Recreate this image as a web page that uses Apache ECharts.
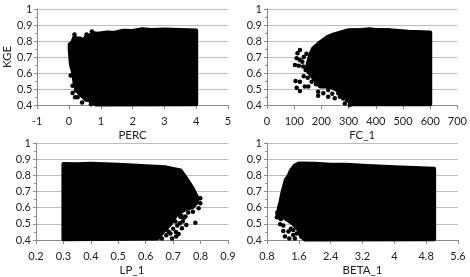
<!DOCTYPE html>
<html><head><meta charset="utf-8">
<style>html,body{margin:0;padding:0;background:#fff}#c{width:470px;height:277px;filter:blur(0.35px)}</style>
<script src="https://cdn.jsdelivr.net/npm/echarts@6/dist/echarts.min.js"></script>
</head><body><div id="c"></div>
<script>
const yMin = 0.4, yMax = 1, yStep = 0.1;
const percName = 'PERC', fcName = 'FC_1', lpName = 'LP_1', betaName = 'BETA_1', yName = 'KGE';

const percOutline = [[0.02,0.78],[0.1,0.79],[0.17,0.825],[0.25,0.815],[0.35,0.815],[0.45,0.805],[0.58,0.835],[0.66,0.835],[0.74,0.85],[0.9,0.846],[1.2,0.853],[1.4,0.851],[1.7,0.864],[2.0,0.862],[2.3,0.873],[2.6,0.869],[3,0.872],[3.5,0.868],[4,0.866],[4,0.405],[0.85,0.403],[0.72,0.42],[0.5,0.44],[0.33,0.47],[0.23,0.5],[0.18,0.53],[0.12,0.61],[0.06,0.65],[0.02,0.75]];
const percOutliers = [[0.05,0.585],[0.11,0.52],[0.11,0.475],[0.19,0.448],[0.27,0.448],[0.41,0.415],[0.53,0.435],[0.69,0.405],[0.22,0.49],[0.17,0.84],[0.55,0.84],[0.72,0.86]];

const fcOutline = [[158,0.71],[170,0.755],[190,0.785],[222,0.825],[243,0.84],[265,0.85],[300,0.867],[340,0.868],[375,0.874],[410,0.868],[450,0.868],[520,0.858],[600,0.853],[600,0.405],[312,0.405],[304,0.42],[268,0.485],[232,0.516],[195,0.516],[171,0.568],[146,0.62],[150,0.66]];
const fcOutliers = [[121,0.744],[112,0.723],[109,0.692],[121,0.681],[103,0.65],[117,0.646],[133,0.64],[142,0.619],[105,0.55],[121,0.546],[109,0.508],[121,0.488],[139,0.515],[152,0.515],[164,0.546],[188,0.483],[188,0.458],[207,0.473],[225,0.494],[225,0.452],[249,0.442],[268,0.452],[286,0.41],[304,0.4],[262,0.473],[135,0.7],[145,0.72],[130,0.67],[135,0.58],[150,0.57],[180,0.53],[240,0.47],[280,0.44],[295,0.43]];

const lpOutline = [[0.3,0.87],[0.35,0.868],[0.4,0.872],[0.5,0.866],[0.6,0.856],[0.67,0.85],[0.7,0.84],[0.727,0.83],[0.75,0.775],[0.77,0.722],[0.79,0.655],[0.785,0.63],[0.773,0.605],[0.745,0.59],[0.713,0.56],[0.693,0.505],[0.665,0.455],[0.645,0.41],[0.3,0.405]];
const lpOutliers = [[0.781,0.507],[0.799,0.658],[0.799,0.627],[0.793,0.596],[0.772,0.575],[0.748,0.493],[0.732,0.472],[0.726,0.544],[0.738,0.534],[0.724,0.503],[0.708,0.514],[0.72,0.437],[0.711,0.421],[0.696,0.41],[0.683,0.452],[0.665,0.462],[0.659,0.41],[0.72,0.56],[0.73,0.55],[0.745,0.545],[0.735,0.515],[0.715,0.49],[0.7,0.47],[0.69,0.44],[0.675,0.43],[0.71,0.45],[0.755,0.57]];

const betaOutline = [[1.6,0.873],[2,0.872],[2.4,0.866],[2.8,0.866],[3.2,0.86],[4,0.85],[5,0.84],[5,0.405],[1.75,0.403],[1.66,0.42],[1.6,0.46],[1.46,0.5],[1.22,0.54],[1.08,0.56],[1.1,0.6],[1.14,0.634],[1.18,0.686],[1.27,0.77],[1.35,0.8],[1.4,0.83],[1.5,0.86]];
const betaOutliers = [[1.07,0.559],[1.13,0.534],[1.13,0.497],[1.21,0.489],[1.21,0.456],[1.34,0.452],[1.46,0.462],[1.51,0.493],[1.25,0.421],[1.36,0.41],[1.46,0.431],[1.05,0.54],[1.06,0.57],[1.15,0.53],[1.4,0.47],[1.55,0.44],[1.5,0.41]];

const panels = [
  {name: percName, min: -1, max: 5, step: 1, outline: percOutline, outliers: percOutliers, rect: [36, 9, 192, 96], yTitle: yName},
  {name: fcName, min: 0, max: 700, step: 100, outline: fcOutline, outliers: fcOutliers, rect: [267, 9, 191, 96]},
  {name: lpName, min: 0.2, max: 0.9, step: 0.1, outline: lpOutline, outliers: lpOutliers, rect: [36, 143, 192, 97]},
  {name: betaName, min: 0.8, max: 5.6, step: 0.8, outline: betaOutline, outliers: betaOutliers, rect: [267, 143, 191, 97]}
];
const font = 'Lato, "Open Sans", sans-serif';
const txt = '#222';
const chart = echarts.init(document.getElementById('c'), null, {renderer: 'canvas'});
const option = {animation: false, backgroundColor: '#fff', grid: [], xAxis: [], yAxis: [], series: []};
panels.forEach((p, i) => {
  option.grid.push({left: p.rect[0], top: p.rect[1], width: p.rect[2], height: p.rect[3]});
  option.xAxis.push({
    type: 'value', gridIndex: i, min: p.min, max: p.max, interval: p.step,
    name: p.name, nameLocation: 'middle', nameGap: 24,
    nameTextStyle: {fontFamily: font, fontSize: 11.5, color: txt},
    axisLine: {show: true, onZero: false, lineStyle: {color: '#8a8a8a'}},
    axisTick: {show: true, length: 4, lineStyle: {color: '#8a8a8a'}},
    axisLabel: {fontFamily: font, fontSize: 11, color: txt, margin: 11,
      formatter: v => String(Math.round(v * 10) / 10)},
    splitLine: {show: false}
  });
  option.yAxis.push({
    type: 'value', gridIndex: i, min: yMin, max: yMax, interval: yStep,
    name: p.yTitle || '', nameLocation: 'middle', nameGap: 20,
    nameTextStyle: {fontFamily: font, fontSize: 11.5, color: txt},
    axisLine: {show: true, onZero: false, lineStyle: {color: '#8a8a8a'}},
    axisTick: {show: true, length: 3, lineStyle: {color: '#8a8a8a'}},
    minorTick: {show: true, splitNumber: 2, length: 2, lineStyle: {color: '#8a8a8a'}},
    axisLabel: {fontFamily: font, fontSize: 11, color: txt, margin: 5,
      formatter: v => String(Math.round(v * 10) / 10)},
    splitLine: {show: true, lineStyle: {color: '#bdbdbd', width: 1}}
  });
  option.series.push({
    type: 'custom', xAxisIndex: i, yAxisIndex: i, data: p.outline, clip: false, silent: true,
    encode: {x: 0, y: 1},
    renderItem: (params, api) => {
      if (params.dataIndex !== 0) return null;
      return {type: 'polygon', shape: {points: p.outline.map(d => api.coord(d))},
        style: {fill: '#000', stroke: '#000', lineWidth: 4, lineJoin: 'round'}};
    }
  });
  option.series.push({
    type: 'scatter', xAxisIndex: i, yAxisIndex: i, data: p.outliers,
    symbol: 'circle', symbolSize: 4.5, clip: false, silent: true,
    itemStyle: {color: '#000', opacity: 1}
  });
});
chart.setOption(option);
</script></body></html>
